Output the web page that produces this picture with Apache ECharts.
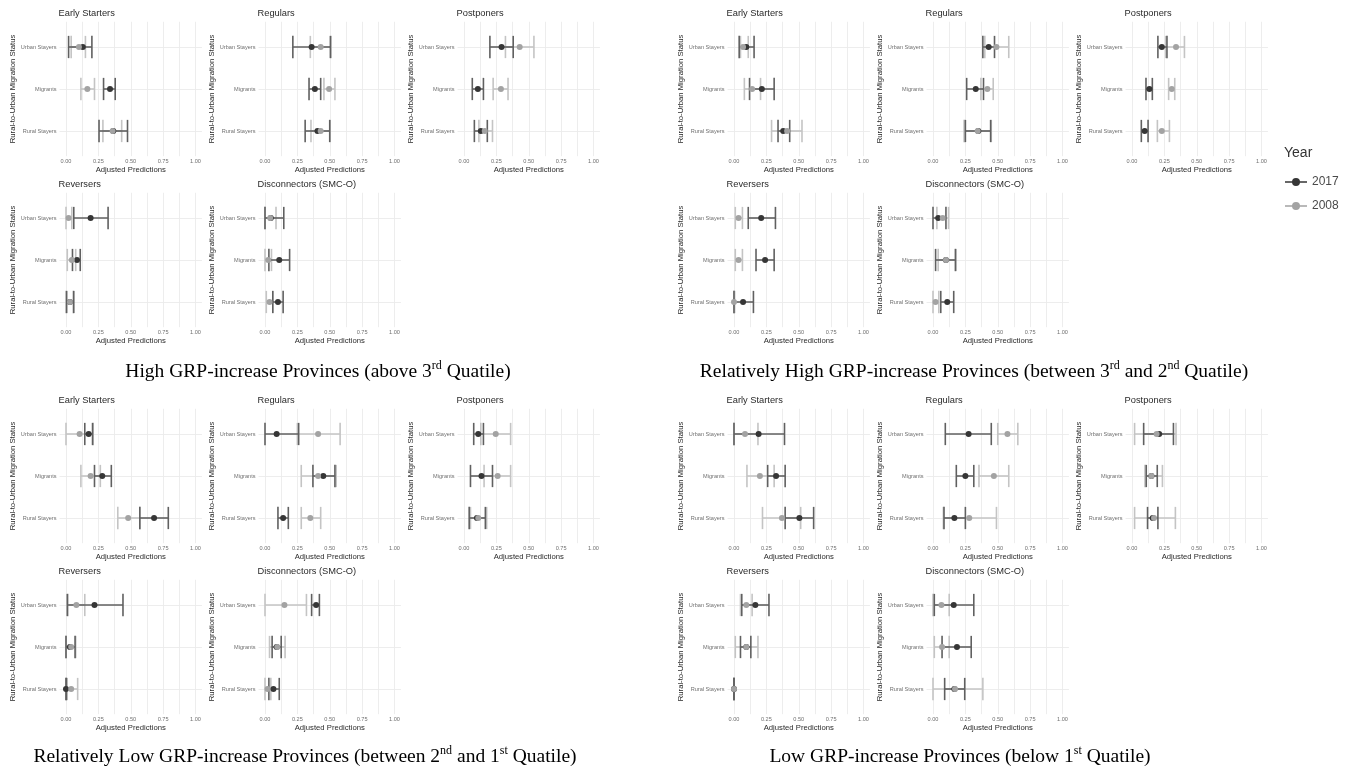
<!DOCTYPE html>
<html>
<head>
<meta charset="utf-8">
<script src="https://cdn.jsdelivr.net/npm/echarts@6/dist/echarts.min.js"></script>
<style>
  html, body { margin: 0; padding: 0; background: #ffffff; }
  #chart { width: 1362px; height: 776px; }
</style>
</head>
<body>
<div id="chart"></div>
<script>
// ---- labels ----
const statuses = ['Urban Stayers', 'Migrants', 'Rural Stayers'];
const groups = ['Early Starters', 'Regulars', 'Postponers', 'Reversers', 'Disconnectors (SMC-O)'];
const years = ['2017', '2008'];
const xTickValues = [0, 0.25, 0.5, 0.75, 1];
const xGridValues = [0, 0.125, 0.25, 0.375, 0.5, 0.625, 0.75, 0.875, 1];

// ---- adjusted predictions: [lower, estimate, upper] for Urban Stayers, Migrants, Rural Stayers ----
// High GRP-increase provinces
const high2017 = [
  [[0.02, 0.13, 0.20], [0.29, 0.34, 0.38], [0.255, 0.365, 0.475]],
  [[0.215, 0.36, 0.505], [0.34, 0.385, 0.43], [0.31, 0.405, 0.50]],
  [[0.20, 0.29, 0.38], [0.064, 0.107, 0.15], [0.08, 0.13, 0.18]],
  [[0.06, 0.19, 0.325], [0.05, 0.085, 0.11], [0.005, 0.03, 0.06]],
  [[0.0, 0.045, 0.145], [0.03, 0.11, 0.19], [0.06, 0.10, 0.14]]
];
const high2008 = [
  [[0.04, 0.10, 0.15], [0.115, 0.165, 0.22], [0.285, 0.36, 0.43]],
  [[0.35, 0.43, 0.51], [0.455, 0.495, 0.54], [0.355, 0.43, 0.50]],
  [[0.32, 0.43, 0.54], [0.225, 0.285, 0.34], [0.115, 0.16, 0.22]],
  [[0.0, 0.02, 0.045], [0.01, 0.045, 0.075], [0.0, 0.03, 0.055]],
  [[0.0, 0.04, 0.085], [0.0, 0.025, 0.05], [0.01, 0.035, 0.06]]
];
// Relatively high GRP-increase provinces
const relHigh2017 = [
  [[0.04, 0.095, 0.155], [0.12, 0.215, 0.31], [0.34, 0.38, 0.43]],
  [[0.385, 0.43, 0.475], [0.26, 0.33, 0.39], [0.25, 0.35, 0.445]],
  [[0.20, 0.23, 0.27], [0.108, 0.134, 0.157], [0.072, 0.098, 0.124]],
  [[0.11, 0.21, 0.32], [0.17, 0.24, 0.31], [0.0, 0.07, 0.15]],
  [[0.0, 0.04, 0.10], [0.02, 0.10, 0.175], [0.06, 0.11, 0.16]]
];
const relHigh2008 = [
  [[0.05, 0.07, 0.11], [0.08, 0.14, 0.205], [0.29, 0.41, 0.525]],
  [[0.40, 0.49, 0.585], [0.37, 0.42, 0.465], [0.24, 0.345, 0.45]],
  [[0.26, 0.34, 0.405], [0.283, 0.307, 0.33], [0.196, 0.23, 0.289]],
  [[0.01, 0.035, 0.065], [0.01, 0.035, 0.065], [0.0, 0.0, 0.005]],
  [[0.03, 0.075, 0.12], [0.04, 0.10, 0.17], [0.0, 0.02, 0.045]]
];
// Relatively low GRP-increase provinces
const relLow2017 = [
  [[0.145, 0.175, 0.205], [0.22, 0.28, 0.35], [0.57, 0.68, 0.79]],
  [[0.0, 0.09, 0.26], [0.37, 0.45, 0.54], [0.10, 0.14, 0.18]],
  [[0.075, 0.11, 0.15], [0.05, 0.135, 0.22], [0.04, 0.10, 0.165]],
  [[0.01, 0.22, 0.44], [0.0, 0.03, 0.07], [0.0, 0.0, 0.005]],
  [[0.36, 0.395, 0.42], [0.055, 0.09, 0.125], [0.03, 0.065, 0.11]]
];
const relLow2008 = [
  [[0.0, 0.105, 0.21], [0.115, 0.19, 0.265], [0.40, 0.48, 0.57]],
  [[0.25, 0.41, 0.58], [0.28, 0.41, 0.55], [0.28, 0.35, 0.43]],
  [[0.13, 0.245, 0.36], [0.155, 0.26, 0.36], [0.05, 0.11, 0.175]],
  [[0.015, 0.08, 0.145], [0.0, 0.04, 0.075], [0.0, 0.04, 0.09]],
  [[0.0, 0.15, 0.32], [0.035, 0.095, 0.155], [0.0, 0.02, 0.045]]
];
// Low GRP-increase provinces
const low2017 = [
  [[0.0, 0.19, 0.39], [0.26, 0.325, 0.395], [0.395, 0.505, 0.615]],
  [[0.095, 0.275, 0.45], [0.18, 0.25, 0.315], [0.085, 0.165, 0.25]],
  [[0.09, 0.21, 0.32], [0.11, 0.15, 0.195], [0.12, 0.16, 0.20]],
  [[0.06, 0.165, 0.27], [0.05, 0.095, 0.13], [0.0, 0.0, 0.0]],
  [[0.01, 0.16, 0.315], [0.07, 0.185, 0.295], [0.09, 0.165, 0.245]]
];
const low2008 = [
  [[0.0, 0.085, 0.185], [0.10, 0.20, 0.31], [0.22, 0.37, 0.515]],
  [[0.50, 0.575, 0.655], [0.355, 0.47, 0.585], [0.08, 0.28, 0.49]],
  [[0.02, 0.19, 0.34], [0.10, 0.15, 0.235], [0.02, 0.17, 0.335]],
  [[0.05, 0.095, 0.14], [0.01, 0.095, 0.185], [0.0, 0.0, 0.0]],
  [[0.0, 0.065, 0.125], [0.01, 0.07, 0.125], [0.0, 0.17, 0.385]]
];

// ---- captions: text, superscript, text ----
const captionHigh = ['High GRP-increase Provinces (above 3', 'rd', ' Quatile)'];
const captionRelHigh = ['Relatively High GRP-increase Provinces (between 3', 'rd', ' and 2', 'nd', ' Quatile)'];
const captionRelLow = ['Relatively Low GRP-increase Provinces (between 2', 'nd', ' and 1', 'st', ' Quatile)'];
const captionLow = ['Low GRP-increase Provinces (below 1', 'st', ' Quatile)'];

const quadrants = [
  { data2017: high2017, data2008: high2008, caption: captionHigh },
  { data2017: relHigh2017, data2008: relHigh2008, caption: captionRelHigh },
  { data2017: relLow2017, data2008: relLow2008, caption: captionRelLow },
  { data2017: low2017, data2008: low2008, caption: captionLow }
];

// ---- layout ----
const PX_PER_UNIT = 129.5;          // pixels per 1.0 on the prediction axis
const X_PAD = 0.05;                 // axis expansion on both sides
const CAT_GAP = 42;                 // pixels between status rows
const Y_PAD = 0.6;                  // discrete axis expansion
const ZERO_X = [66, 265, 464];      // x of 0.00 for the three panel columns
const QUAD_SHIFT_X = 668;           // offset of the right-hand block
const FIRST_ROW_Y = [47, 218, 434, 605]; // y of "Urban Stayers" for each panel row
const CAPTION_POS = [[318, 372], [974, 372], [305, 757], [960, 757]];
const CAP_HALF = 0.265;             // half height of the interval caps, in status units

const SANS = 'Liberation Sans, Arial, sans-serif';
const SERIF = 'Liberation Serif, Times New Roman, serif';
const DARK_BAR = '#606060';
const LIGHT_BAR = '#c4c4c4';
const DARK_PT = '#363636';
const LIGHT_PT = '#a3a3a3';
const GRID_LINE = '#ebebeb';

function intervalRenderer(color) {
  return function (params, api) {
    const y = api.value(2);
    const a = api.coord([api.value(0), y]);
    const b = api.coord([api.value(1), y]);
    const h = api.size([0, CAP_HALF])[1];
    const style = { stroke: color, lineWidth: 1.6, fill: null };
    return {
      type: 'group',
      children: [
        { type: 'line', shape: { x1: a[0], y1: a[1], x2: b[0], y2: b[1] }, style: style },
        { type: 'line', shape: { x1: a[0], y1: a[1] - h, x2: a[0], y2: a[1] + h }, style: style },
        { type: 'line', shape: { x1: b[0], y1: b[1] - h, x2: b[0], y2: b[1] + h }, style: style }
      ]
    };
  };
}

const grids = [], xAxes = [], yAxes = [], series = [], titles = [];

quadrants.forEach((quad, q) => {
  groups.forEach((group, g) => {
    const idx = grids.length;
    const row = Math.floor(q / 2) * 2 + (g < 3 ? 0 : 1);
    const col = g < 3 ? g : g - 3;
    const zeroX = ZERO_X[col] + (q % 2) * QUAD_SHIFT_X;
    const firstY = FIRST_ROW_Y[row];
    const left = zeroX - X_PAD * PX_PER_UNIT;
    const top = firstY - Y_PAD * CAT_GAP;

    grids.push({
      left: left, top: top,
      width: (1 + 2 * X_PAD) * PX_PER_UNIT,
      height: (2 + 2 * Y_PAD) * CAT_GAP,
      containLabel: false
    });

    titles.push({
      text: group, left: left - 1, top: firstY - 38.5, padding: 0,
      textStyle: { fontFamily: SANS, fontSize: 9.3, fontWeight: 'normal', color: '#2a2a2a', lineHeight: 10 }
    });

    xAxes.push({
      gridIndex: idx, type: 'value', min: -X_PAD, max: 1 + X_PAD,
      axisLine: { show: false },
      axisTick: { show: false, customValues: xGridValues },
      axisLabel: {
        customValues: xTickValues, formatter: v => v.toFixed(2),
        fontFamily: SANS, fontSize: 5.6, color: '#707070', margin: 2
      },
      splitLine: { show: true, lineStyle: { color: GRID_LINE, width: 0.9 } },
      name: 'Adjusted Predictions', nameLocation: 'middle', nameGap: 10,
      nameTextStyle: { fontFamily: SANS, fontSize: 7.7, color: '#2a2a2a' }
    });

    yAxes.push({
      gridIndex: idx, type: 'value', min: 0.4, max: 3.6, inverse: true,
      axisLine: { show: false },
      axisTick: { show: false, customValues: [1, 2, 3] },
      axisLabel: {
        customValues: [1, 2, 3], formatter: v => statuses[Math.round(v) - 1],
        fontFamily: SANS, fontSize: 5.6, color: '#707070', margin: 3
      },
      splitLine: { show: true, lineStyle: { color: GRID_LINE, width: 0.9 } },
      name: 'Rural-to-Urban Migration Status', nameLocation: 'middle', nameGap: 43, nameRotate: 90,
      nameTextStyle: { fontFamily: SANS, fontSize: 7.7, color: '#2a2a2a' }
    });

    const rows2017 = quad.data2017[g];
    const rows2008 = quad.data2008[g];

    series.push({
      name: '2008 interval', type: 'custom', xAxisIndex: idx, yAxisIndex: idx,
      renderItem: intervalRenderer(LIGHT_BAR), silent: true,
      encode: { x: [0, 1], y: 2 },
      data: rows2008.map((r, i) => [r[0], r[2], i + 1])
    });
    series.push({
      name: '2017 interval', type: 'custom', xAxisIndex: idx, yAxisIndex: idx,
      renderItem: intervalRenderer(DARK_BAR), silent: true,
      encode: { x: [0, 1], y: 2 },
      data: rows2017.map((r, i) => [r[0], r[2], i + 1])
    });
    series.push({
      name: years[0], type: 'scatter', xAxisIndex: idx, yAxisIndex: idx,
      symbolSize: 6, itemStyle: { color: DARK_PT, opacity: 1 }, silent: true,
      data: rows2017.map((r, i) => [r[1], i + 1])
    });
    series.push({
      name: years[1], type: 'scatter', xAxisIndex: idx, yAxisIndex: idx,
      symbolSize: 6, itemStyle: { color: LIGHT_PT, opacity: 1 }, silent: true,
      data: rows2008.map((r, i) => [r[1], i + 1])
    });
  });
});

titles.push({
  text: 'Year', left: 1284, top: 146, padding: 0,
  textStyle: { fontFamily: SANS, fontSize: 14, fontWeight: 'normal', color: '#333333' }
});

// legend key: horizontal line through a point
const KEY_ICON = 'path://M0,3.3 L22,3.3 L22,4.7 L0,4.7 Z M11,0 A4,4 0 1,1 11,8 A4,4 0 1,1 11,0 Z';

function captionText(parts) {
  return parts.map((p, i) => (i % 2 === 0 ? '{m|' : '{s|') + p + '}').join('');
}

const option = {
  animation: false,
  backgroundColor: '#ffffff',
  title: titles,
  grid: grids,
  xAxis: xAxes,
  yAxis: yAxes,
  series: series,
  legend: {
    data: [{ name: years[0], icon: KEY_ICON }, { name: years[1], icon: KEY_ICON }],
    orient: 'vertical', left: 1285, top: 176, padding: 0,
    itemWidth: 22, itemHeight: 8, itemGap: 12,
    selectedMode: false,
    textStyle: { fontFamily: SANS, fontSize: 12, color: '#4a4a4a' }
  },
  graphic: quadrants.map((quad, i) => ({
    type: 'text', x: CAPTION_POS[i][0], y: CAPTION_POS[i][1], silent: true,
    style: {
      text: captionText(quad.caption),
      align: 'center', verticalAlign: 'middle',
      textAlign: 'center', textVerticalAlign: 'middle',
      rich: {
        m: { fontFamily: SERIF, fontSize: 19.5, fill: '#000000', color: '#000000', lineHeight: 24 },
        s: { fontFamily: SERIF, fontSize: 12, fill: '#000000', color: '#000000', verticalAlign: 'top', lineHeight: 24 }
      }
    }
  }))
};

const chart = echarts.init(document.getElementById('chart'), null, { renderer: 'canvas' });
chart.setOption(option);
</script>
</body>
</html>
